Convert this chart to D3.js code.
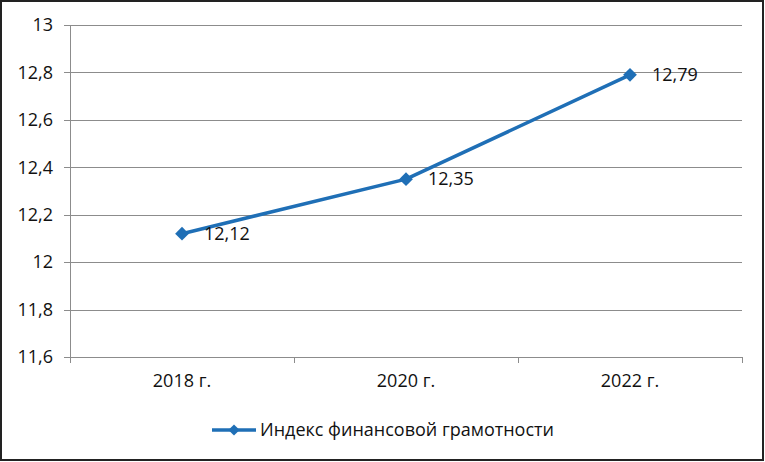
<!DOCTYPE html>
<html><head><meta charset="utf-8">
<script src="https://cdn.jsdelivr.net/npm/d3@7"></script>
<style>
html,body{margin:0;padding:0;background:#fff;}
svg{display:block;}
text{font-family:"Open Sans","Noto Sans",sans-serif;fill:#111;}
</style></head>
<body>
<svg id="chart" width="765" height="462"></svg>
<script>
const categories = ["2018 г.", "2020 г.", "2022 г."];
const values = [12.12, 12.35, 12.79];
const valueLabels = ["12,12", "12,35", "12,79"];
const yTicks = [11.6, 11.8, 12, 12.2, 12.4, 12.6, 12.8, 13];
const seriesName = "Индекс финансовой грамотности";

const W = 765, H = 462;
const svg = d3.select("#chart");
const color = "#1f6fb6";
const grid = "#8c8c8c";
const m = {left: 70, right: 742, top: 25, bottom: 357};

svg.append("rect").attr("x", 1).attr("y", 1).attr("width", W - 3).attr("height", H - 3)
  .attr("fill", "#fff").attr("stroke", "#222").attr("stroke-width", 2);

const x = d3.scaleBand().domain(categories).range([m.left, m.right]).padding(0);
const y = d3.scaleLinear().domain([11.6, 13]).range([m.bottom, m.top]);

const fmt = d => d3.format(",.1f")(d).replace(".", ",").replace(/,0$/, "");

svg.append("g").selectAll("line").data(yTicks).join("line")
  .attr("x1", m.left - 6).attr("x2", m.right)
  .attr("y1", d => Math.round(y(d)) + 0.5).attr("y2", d => Math.round(y(d)) + 0.5)
  .attr("stroke", grid).attr("stroke-width", 1);

svg.append("line").attr("x1", m.left + 0.5).attr("x2", m.left + 0.5)
  .attr("y1", m.top).attr("y2", m.bottom + 6).attr("stroke", grid);

const bounds = [m.left, ...categories.map(c => x(c) + x.bandwidth())];
svg.append("g").selectAll("line").data(bounds).join("line")
  .attr("x1", d => Math.round(d) + 0.5).attr("x2", d => Math.round(d) + 0.5)
  .attr("y1", m.bottom).attr("y2", m.bottom + 6).attr("stroke", grid);

svg.append("g").selectAll("text").data(yTicks).join("text")
  .attr("x", 53).attr("y", d => y(d)).attr("dy", "0.35em")
  .attr("text-anchor", "end").attr("font-size", 18).text(d => fmt(d));

svg.append("g").selectAll("text").data(categories).join("text")
  .attr("x", d => x(d) + x.bandwidth() / 2).attr("y", 387)
  .attr("text-anchor", "middle").attr("font-size", 18).text(d => d);

const pts = categories.map((c, i) => ({cx: x(c) + x.bandwidth() / 2, cy: y(values[i]), label: valueLabels[i]}));

svg.append("path").datum(pts)
  .attr("d", d3.line().x(d => d.cx).y(d => d.cy))
  .attr("fill", "none").attr("stroke", color).attr("stroke-width", 3.5).attr("stroke-linejoin", "round");

const diamond = d3.symbol().type(d3.symbolDiamond2).size(120);
svg.append("g").selectAll("path").data(pts).join("path")
  .attr("transform", d => `translate(${d.cx},${d.cy})`)
  .attr("d", diamond).attr("fill", color);

svg.append("g").selectAll("text").data(pts).join("text")
  .attr("x", d => d.cx + 22).attr("y", d => d.cy).attr("dy", "0.35em")
  .attr("font-size", 18).text(d => d.label);

const ly = 430;
svg.append("line").attr("x1", 212).attr("x2", 256).attr("y1", ly).attr("y2", ly)
  .attr("stroke", color).attr("stroke-width", 3.5);
svg.append("path").attr("transform", `translate(234,${ly})`).attr("d", d3.symbol().type(d3.symbolDiamond2).size(80)).attr("fill", color);
svg.append("text").attr("x", 260).attr("y", ly).attr("dy", "0.35em").attr("font-size", 18).text(seriesName);
</script>
</body></html>
